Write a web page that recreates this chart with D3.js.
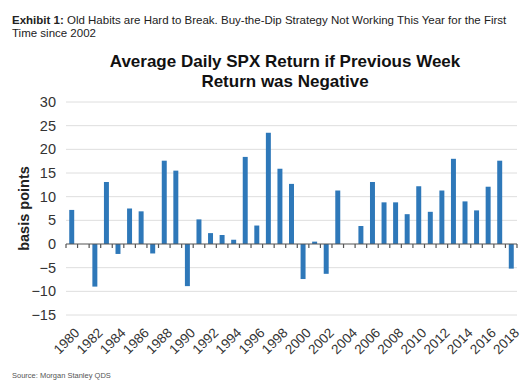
<!DOCTYPE html>
<html>
<head>
<meta charset="utf-8">
<script src="https://cdn.jsdelivr.net/npm/d3@7"></script>
<style>
  body { margin: 0; background: #fff; }
  text { font-family: "Liberation Sans", Arial, sans-serif; }
</style>
</head>
<body>
<script>
// Width, height
var w = 528;
var h = 389;

// Data
var years = d3.range(1980, 2019);
var values = [ 7.2, 0, -9.0, 13.1, -2.1, 7.5, 6.9, -2.0, 17.6, 15.5,
               -8.9, 5.2, 2.3, 1.9, 0.9, 18.4, 3.9, 23.5, 15.9, 12.7,
               -7.4, 0.5, -6.3, 11.3, 0, 3.8, 13.1, 8.8, 8.8, 6.3,
               12.2, 6.8, 11.3, 18.0, 9.0, 7.1, 12.1, 17.6, -5.2 ];
var yTicks = [ -15, -10, -5, 0, 5, 10, 15, 20, 25, 30 ];
var xLabels = years.filter(function(d) { return d % 2 === 0; });

// Plot area (don't call it "top", that's window.top)
var plotLeft = 66, plotRight = 517, plotTop = 102, plotBottom = 315;

// Scales
var xScale = d3.scaleBand()
               .domain(years)
               .range([plotLeft, plotRight])
               .paddingInner(0.57)
               .paddingOuter(0.28);

var yScale = d3.scaleLinear()
               .domain([-15, 30])
               .range([plotBottom, plotTop]);

var svg = d3.select("body")
            .append("svg")
            .attr("width", w)
            .attr("height", h);

// Header text
var head = svg.append("text")
              .attr("x", 12)
              .attr("y", 24)
              .attr("font-size", "11.5px")
              .attr("fill", "#222");
head.append("tspan").attr("font-weight", "bold").text("Exhibit 1:");
head.append("tspan").text("  Old Habits are Hard to Break. Buy-the-Dip Strategy Not Working This Year for the First");
svg.append("text")
   .attr("x", 12)
   .attr("y", 37)
   .attr("font-size", "11.5px")
   .attr("fill", "#222")
   .text("Time since 2002");

// Chart title
var titleLines = ["Average Daily SPX Return if Previous Week", "Return was Negative"];
svg.selectAll(".title")
   .data(titleLines)
   .enter()
   .append("text")
   .attr("class", "title")
   .attr("x", 285)
   .attr("y", function(d, i) { return 67 + i * 20; })
   .attr("text-anchor", "middle")
   .attr("font-size", "17px")
   .attr("font-weight", "bold")
   .attr("fill", "#111")
   .text(function(d) { return d; });

// Gridlines
svg.selectAll(".grid")
   .data(yTicks.filter(function(d) { return d !== 0; }))
   .enter()
   .append("line")
   .attr("x1", plotLeft)
   .attr("x2", plotRight)
   .attr("y1", function(d) { return yScale(d); })
   .attr("y2", function(d) { return yScale(d); })
   .attr("stroke", "#dedede")
   .attr("stroke-width", 1);

// Y axis labels
var yAxis = d3.axisLeft(yScale)
              .tickValues(yTicks)
              .tickSize(0)
              .tickPadding(0);
var yg = svg.append("g")
            .attr("transform", "translate(56,0)")
            .call(yAxis);
yg.select(".domain").remove();
yg.selectAll("text")
  .attr("font-size", "14.5px")
  .attr("fill", "#333")
  .attr("font-family", "Liberation Sans, Arial, sans-serif");

svg.append("text")
   .attr("transform", "translate(29," + yScale(7.5) + ") rotate(-90)")
   .attr("text-anchor", "middle")
   .attr("font-size", "14.5px")
   .attr("font-weight", "bold")
   .attr("fill", "#222")
   .text("basis points");

// Bars
svg.selectAll(".bar")
   .data(values)
   .enter()
   .append("rect")
   .attr("class", "bar")
   .attr("x", function(d, i) { return xScale(years[i]); })
   .attr("y", function(d) { return yScale(Math.max(0, d)); })
   .attr("width", xScale.bandwidth())
   .attr("height", function(d) { return Math.abs(yScale(d) - yScale(0)); })
   .attr("fill", "#2e78b9");

// Zero axis with tick marks between bars
var step = (plotRight - plotLeft) / years.length;
svg.append("line")
   .attr("x1", plotLeft)
   .attr("x2", plotRight)
   .attr("y1", yScale(0))
   .attr("y2", yScale(0))
   .attr("stroke", "#555")
   .attr("stroke-width", 1.2);
svg.selectAll(".xtick")
   .data(d3.range(years.length + 1))
   .enter()
   .append("line")
   .attr("x1", function(i) { return plotLeft + i * step; })
   .attr("x2", function(i) { return plotLeft + i * step; })
   .attr("y1", yScale(0))
   .attr("y2", yScale(0) + 4)
   .attr("stroke", "#555")
   .attr("stroke-width", 1.2);

// X labels
svg.selectAll(".xlabel")
   .data(xLabels)
   .enter()
   .append("text")
   .attr("class", "xlabel")
   .attr("transform", function(d) {
      return "translate(" + (xScale(d) + xScale.bandwidth() / 2 + 2) + ",327) rotate(-45)";
   })
   .attr("text-anchor", "end")
   .attr("dy", "0.7em")
   .attr("font-size", "13.5px")
   .attr("fill", "#333")
   .text(function(d) { return d; });

// Source
svg.append("text")
   .attr("x", 12)
   .attr("y", 378)
   .attr("font-size", "7.5px")
   .attr("fill", "#555")
   .text("Source: Morgan Stanley QDS");
</script>
</body>
</html>
